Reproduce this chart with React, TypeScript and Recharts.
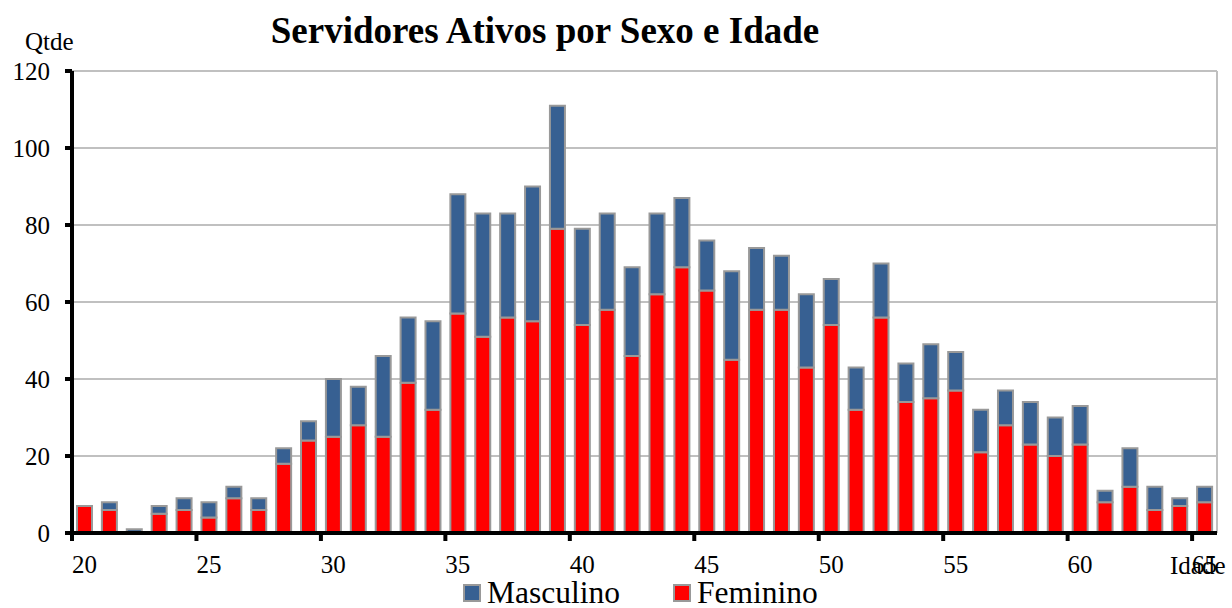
import React from "react";
import { BarChart, Bar, XAxis, YAxis, CartesianGrid, ReferenceLine } from "recharts";

const ages = [
  "20", "21", "22", "23", "24", "25", "26", "27", "28", "29",
  "30", "31", "32", "33", "34", "35", "36", "37", "38", "39",
  "40", "41", "42", "43", "44", "45", "46", "47", "48", "49",
  "50", "51", "52", "53", "54", "55", "56", "57", "58", "59",
  "60", "61", "62", "63", "64", "65",
];
const feminino = [
  7, 6, 0, 5, 6, 4, 9, 6, 18, 24,
  25, 28, 25, 39, 32, 57, 51, 56, 55, 79,
  54, 58, 46, 62, 69, 63, 45, 58, 58, 43,
  54, 32, 56, 34, 35, 37, 21, 28, 23, 20,
  23, 8, 12, 6, 7, 8,
];
const masculino = [
  0, 2, 1, 2, 3, 4, 3, 3, 4, 5,
  15, 10, 21, 17, 23, 31, 32, 27, 35, 32,
  25, 25, 23, 21, 18, 13, 23, 16, 14, 19,
  12, 11, 14, 10, 14, 10, 11, 9, 11, 10,
  10, 3, 10, 6, 2, 4,
];
const yTicks = [0, 20, 40, 60, 80, 100, 120];

const BLUE = "#376092";
const RED = "#ff0000";
const EDGE = "#999999";
const FONT = "Liberation Serif, Tinos, Times New Roman, DejaVu Serif, serif";

const data = ages.map((age, i) => ({ age, feminino: feminino[i], masculino: masculino[i] }));

function AgeTick(props: any) {
  const { x, y, payload } = props;
  const off = payload.offset ?? 0;
  return (
    <g>
      <line x1={x - off} x2={x - off} y1={y} y2={y + 8} stroke="#000" strokeWidth={4} />
      <text x={x} y={y + 40} textAnchor="middle" fontSize={25} style={{ fontFamily: FONT }} fill="#000">
        {payload.value}
      </text>
    </g>
  );
}

function LegendItem({ color, label, gap }: { color: string; label: string; gap: number }) {
  return (
    <span style={{ display: "inline-flex", alignItems: "center", marginRight: gap }}>
      <span
        style={{
          display: "inline-block",
          width: 14,
          height: 14,
          background: color,
          border: `2px solid ${EDGE}`,
          marginRight: 6,
        }}
      />
      {label}
    </span>
  );
}

export default function App() {
  return (
    <div style={{ position: "absolute", left: 0, top: 0, width: 1232, height: 608, background: "#fff", fontFamily: FONT }}>
      <div
        style={{
          position: "absolute",
          left: 0,
          width: 1090,
          top: 11,
          textAlign: "center",
          fontSize: 37,
          lineHeight: "40px",
          fontWeight: "bold",
          whiteSpace: "nowrap",
        }}
      >
        Servidores Ativos por Sexo e Idade
      </div>
      <div style={{ position: "absolute", left: 25, top: 28, fontSize: 25, lineHeight: "28px" }}>Qtde</div>
      <BarChart
        width={1232}
        height={608}
        data={data}
        margin={{ top: 71, right: 15, left: 0, bottom: 0 }}
        barSize={15}
      >
        <CartesianGrid vertical={false} stroke="#c0c0c0" strokeWidth={2} />
        <ReferenceLine x="65" position="end" stroke="#c0c0c0" strokeWidth={2} />
        <XAxis
          dataKey="age"
          interval={4}
          height={75}
          tickSize={0}
          tickMargin={0}
          tickLine={false}
          axisLine={{ stroke: "#000", strokeWidth: 4 }}
          tick={<AgeTick />}
        />
        <YAxis
          width={72}
          domain={[0, 120]}
          ticks={yTicks}
          interval={0}
          tickSize={7}
          tickMargin={15}
          axisLine={{ stroke: "#000", strokeWidth: 4 }}
          tickLine={{ stroke: "#000", strokeWidth: 4 }}
          tick={{ fill: "#000", fontSize: 25, style: { fontFamily: FONT } }}
        />
        <Bar dataKey="feminino" stackId="s" fill={RED} stroke={EDGE} strokeWidth={2} isAnimationActive={false} />
        <Bar dataKey="masculino" stackId="s" fill={BLUE} stroke={EDGE} strokeWidth={2} isAnimationActive={false} />
      </BarChart>
      <div style={{ position: "absolute", left: 1170, top: 552, fontSize: 25, lineHeight: "28px" }}>Idade</div>
      <div
        style={{
          position: "absolute",
          left: 463,
          top: 579,
          fontSize: 31.5,
          lineHeight: "28px",
          display: "flex",
          whiteSpace: "nowrap",
        }}
      >
        <LegendItem color={BLUE} label="Masculino" gap={53} />
        <LegendItem color={RED} label="Feminino" gap={0} />
      </div>
    </div>
  );
}
